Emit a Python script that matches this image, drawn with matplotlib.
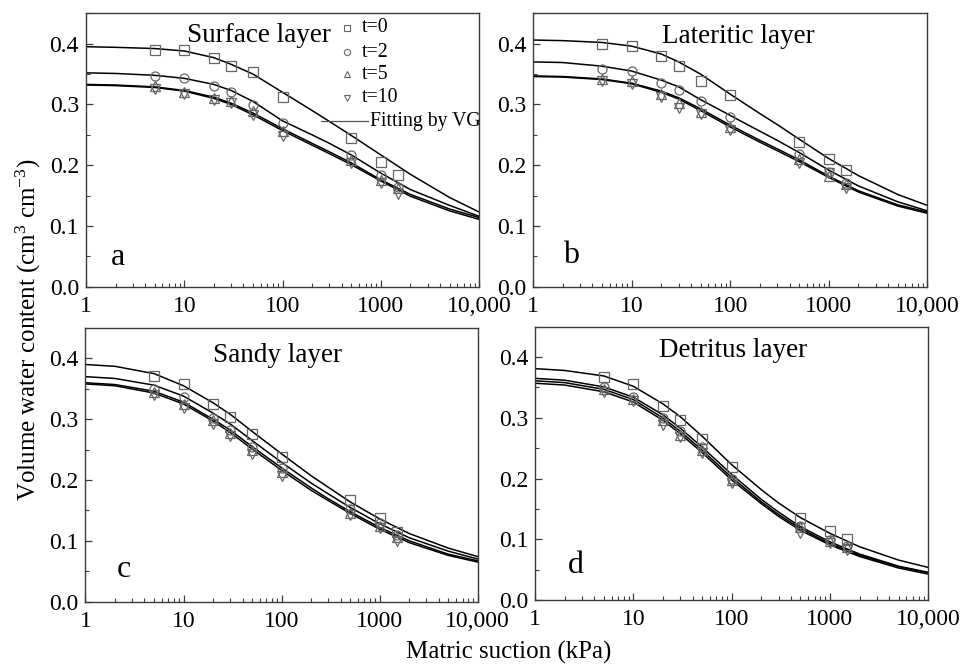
import numpy as np
import matplotlib
matplotlib.use("Agg")
import matplotlib.pyplot as plt
from matplotlib.ticker import FixedLocator, FixedFormatter, MultipleLocator

plt.rcParams['font.family'] = ['Liberation Serif', 'DejaVu Serif']
plt.rcParams['mathtext.fontset'] = 'custom'
plt.rcParams['mathtext.rm'] = 'Liberation Serif'
plt.rcParams['mathtext.it'] = 'Liberation Serif:italic'

# measured suction steps (kPa)
suction = [5, 10, 20, 30, 50, 100, 500, 1000, 1500]
# suction values where the VG fitted curves are tabulated
fit_suction = [1, 2, 5, 10, 20, 30, 50, 100, 200, 300, 500, 1000, 2000, 5000, 10000]

series = ["t=0", "t=2", "t=5", "t=10"]
markers = ["s", "o", "^", "v"]

# measured water content per layer
surface_obs = [
    [0.390, 0.390, 0.376, 0.364, 0.353, 0.313, 0.245, 0.206, 0.184],
    [0.347, 0.343, 0.331, 0.320, 0.299, 0.270, 0.217, 0.184, 0.165],
    [0.331, 0.321, 0.311, 0.306, 0.290, 0.256, 0.208, 0.175, 0.163],
    [0.325, 0.318, 0.308, 0.303, 0.282, 0.248, 0.203, 0.171, 0.153],
]
lateritic_obs = [
    [0.399, 0.396, 0.379, 0.363, 0.339, 0.316, 0.239, 0.211, 0.192],
    [0.358, 0.355, 0.336, 0.323, 0.305, 0.280, 0.219, 0.189, 0.171],
    [0.342, 0.338, 0.317, 0.303, 0.287, 0.263, 0.210, 0.183, 0.170],
    [0.338, 0.333, 0.313, 0.295, 0.284, 0.258, 0.203, 0.187, 0.163],
]
sandy_obs = [
    [0.371, 0.358, 0.325, 0.304, 0.275, 0.238, 0.167, 0.137, 0.115],
    [0.350, 0.336, 0.302, 0.283, 0.255, 0.220, 0.153, 0.129, 0.110],
    [0.344, 0.325, 0.298, 0.277, 0.250, 0.213, 0.146, 0.124, 0.106],
    [0.340, 0.318, 0.292, 0.272, 0.243, 0.207, 0.143, 0.121, 0.100],
]
detritus_obs = [
    [0.368, 0.355, 0.319, 0.297, 0.266, 0.219, 0.136, 0.114, 0.101],
    [0.350, 0.334, 0.300, 0.278, 0.252, 0.200, 0.122, 0.099, 0.089],
    [0.347, 0.331, 0.296, 0.272, 0.247, 0.198, 0.120, 0.098, 0.087],
    [0.343, 0.327, 0.288, 0.268, 0.243, 0.193, 0.110, 0.094, 0.083],
]

# VG fitted curves per layer
surface_fit = [
    [0.395, 0.394, 0.392, 0.388, 0.377, 0.366, 0.350, 0.320, 0.290, 0.272, 0.249, 0.217, 0.185, 0.147, 0.123],
    [0.352, 0.351, 0.348, 0.343, 0.333, 0.323, 0.305, 0.273, 0.250, 0.236, 0.217, 0.187, 0.160, 0.134, 0.116],
    [0.333, 0.332, 0.329, 0.323, 0.312, 0.302, 0.286, 0.260, 0.236, 0.222, 0.204, 0.176, 0.152, 0.128, 0.114],
    [0.332, 0.331, 0.328, 0.322, 0.310, 0.300, 0.283, 0.257, 0.233, 0.219, 0.201, 0.174, 0.149, 0.125, 0.111],
]
lateritic_fit = [
    [0.406, 0.405, 0.402, 0.396, 0.383, 0.370, 0.350, 0.317, 0.285, 0.267, 0.243, 0.211, 0.183, 0.152, 0.134],
    [0.370, 0.369, 0.363, 0.355, 0.340, 0.329, 0.308, 0.282, 0.256, 0.241, 0.221, 0.192, 0.166, 0.140, 0.125],
    [0.347, 0.346, 0.342, 0.335, 0.322, 0.311, 0.293, 0.266, 0.241, 0.227, 0.209, 0.182, 0.158, 0.135, 0.123],
    [0.346, 0.345, 0.341, 0.334, 0.320, 0.309, 0.290, 0.263, 0.238, 0.224, 0.206, 0.180, 0.156, 0.133, 0.121],
]
sandy_fit = [
    [0.390, 0.387, 0.375, 0.355, 0.327, 0.308, 0.280, 0.243, 0.207, 0.188, 0.164, 0.136, 0.112, 0.088, 0.074],
    [0.370, 0.367, 0.356, 0.338, 0.310, 0.292, 0.265, 0.229, 0.195, 0.177, 0.155, 0.128, 0.105, 0.083, 0.070],
    [0.360, 0.357, 0.346, 0.328, 0.300, 0.282, 0.255, 0.220, 0.187, 0.169, 0.148, 0.122, 0.100, 0.078, 0.067],
    [0.358, 0.355, 0.343, 0.325, 0.297, 0.278, 0.251, 0.216, 0.183, 0.166, 0.145, 0.119, 0.097, 0.076, 0.065],
]
detritus_fit = [
    [0.381, 0.378, 0.369, 0.352, 0.323, 0.302, 0.270, 0.223, 0.182, 0.160, 0.136, 0.110, 0.088, 0.066, 0.054],
    [0.365, 0.362, 0.351, 0.334, 0.305, 0.283, 0.252, 0.207, 0.166, 0.145, 0.121, 0.096, 0.076, 0.056, 0.046],
    [0.361, 0.358, 0.347, 0.330, 0.300, 0.278, 0.247, 0.202, 0.162, 0.141, 0.118, 0.093, 0.074, 0.055, 0.045],
    [0.357, 0.354, 0.343, 0.326, 0.296, 0.274, 0.243, 0.198, 0.159, 0.138, 0.115, 0.091, 0.072, 0.053, 0.043],
]

layers = ["Surface layer", "Lateritic layer", "Sandy layer", "Detritus layer"]
letters = ["a", "b", "c", "d"]
obs_all = [surface_obs, lateritic_obs, sandy_obs, detritus_obs]
fit_all = [surface_fit, lateritic_fit, sandy_fit, detritus_fit]

x_ticks = [1, 10, 100, 1000, 10000]
x_tick_labels = ["1", "10", "100", "1000", "10,000"]

frame_col = "#3c3c3c"
mark_col = "#666666"

fig = plt.figure(figsize=(9.71, 6.64), dpi=100)
positions = [
    [0.0885, 0.568, 0.405, 0.412],
    [0.5490, 0.568, 0.406, 0.412],
    [0.0880, 0.094, 0.404, 0.412],
    [0.5510, 0.096, 0.405, 0.412],
]
title_pos = [(0.257, 0.896), (0.327, 0.893), (0.325, 0.877), (0.316, 0.888)]
letter_pos = [(0.064, 0.08), (0.076, 0.088), (0.080, 0.091), (0.084, 0.098)]

axes = []
for i in range(4):
    ax = fig.add_axes(positions[i])
    axes.append(ax)
    for k in range(4):
        ax.plot(fit_suction, fit_all[i][k], color="black", lw=1.1, zorder=2)
        ax.plot(suction, obs_all[i][k], linestyle="none", marker=markers[k],
                ms=6.5, mfc="none", mec=mark_col, mew=0.9, zorder=3)
    ax.set_xscale("log")
    ax.set_xlim(1, 10000)
    ax.set_ylim(0, 0.45)
    ax.xaxis.set_major_locator(FixedLocator(x_ticks))
    ax.xaxis.set_major_formatter(FixedFormatter(x_tick_labels))
    ax.yaxis.set_major_locator(FixedLocator([0, 0.1, 0.2, 0.3, 0.4]))
    ax.yaxis.set_major_formatter(plt.FormatStrFormatter("%.1f"))
    ax.yaxis.set_minor_locator(MultipleLocator(0.05))
    ax.tick_params(which="both", direction="in", top=False, right=False,
                   color=frame_col, labelsize=17)
    ax.tick_params(axis="x", pad=6.5)
    ax.tick_params(axis="y", pad=5)
    ax.tick_params(which="major", length=5, width=0.9)
    ax.tick_params(which="minor", length=3, width=0.8)
    for sp in ax.spines.values():
        sp.set_color(frame_col)
        sp.set_linewidth(1.0)
    ax.text(title_pos[i][0], title_pos[i][1], layers[i], transform=ax.transAxes,
            fontsize=19.5, ha="left", va="baseline")
    ax.text(letter_pos[i][0], letter_pos[i][1], letters[i], transform=ax.transAxes,
            fontsize=23, ha="left", va="baseline")

# legend in panel a, laid out by hand
ax = axes[0]
leg_rows = [0.948, 0.857, 0.777, 0.692]
for k in range(4):
    ax.plot([0.663], [leg_rows[k]], transform=ax.transAxes, marker=markers[k],
            ms=4.5, mfc="none", mec=mark_col, mew=0.8, linestyle="none")
    ax.text(0.701, leg_rows[k], series[k], transform=ax.transAxes,
            fontsize=14.2, ha="left", va="center")
ax.plot([0.597, 0.718], [0.605, 0.605], transform=ax.transAxes,
        color="#555555", lw=0.9)
ax.text(0.723, 0.605, "Fitting by VG", transform=ax.transAxes,
        fontsize=14.2, ha="left", va="center")

fig.text(0.029, 0.503, "Volume water content (cm$^3$ cm$^{-3}$)", rotation=90,
         ha="center", va="center", fontsize=18)
fig.text(0.524, 0.017, "Matric suction (kPa)", ha="center", va="center", fontsize=18)

fig.savefig("out.png", dpi=100)
